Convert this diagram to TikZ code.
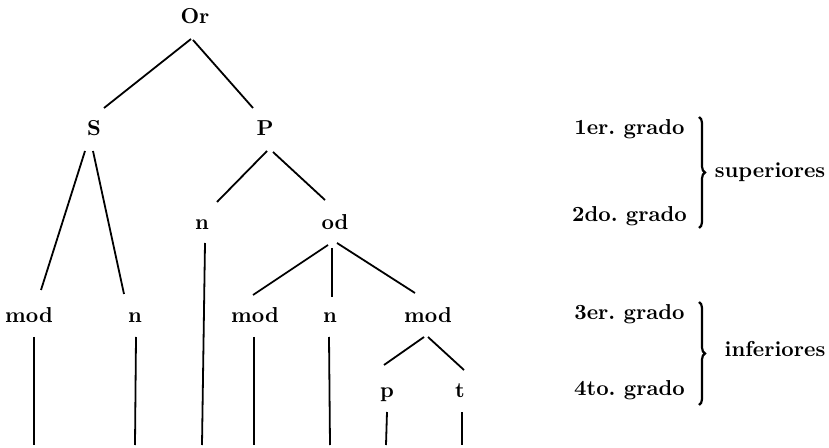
\documentclass[tikz,border=0pt]{standalone}
\usetikzlibrary{calc,decorations.pathreplacing}
\begin{document}
\begin{tikzpicture}[x=0.5pt,y=-0.5pt,
  lab/.style={anchor=base,inner sep=0pt,font=\fontsize{10.8}{13}\selectfont\bfseries},
  edge/.style={line width=0.9pt},
  brc/.style={line width=1.1pt,decorate,decoration={brace,amplitude=3pt}}]
\useasboundingbox (0,0) rectangle (829,448);
% tree nodes
\node[lab] (Or) at (195,24) {Or};
\node[lab] (S) at (94,136) {S};
\node[lab] (P) at (265,136) {P};
\node[lab] (n1) at (202,230) {n};
\node[lab] (od) at (335,230) {od};
\node[lab] (mod1) at (29,323) {mod};
\node[lab] (n2) at (135,323) {n};
\node[lab] (mod2) at (255,323) {mod};
\node[lab] (n3) at (330,323) {n};
\node[lab] (mod3) at (428,323) {mod};
\node[lab] (p) at (387,397) {p};
\node[lab] (t) at (460,397) {t};
% free ends
\coordinate (e1) at (34,445);
\coordinate (e2) at (135,445);
\coordinate (e3) at (202,445);
\coordinate (e4) at (254,445);
\coordinate (e5) at (330,445);
\coordinate (e6) at (386,445);
\coordinate (e7) at (462,445);
% edges
\draw[edge] ($(Or.base)+(-4,15)$) -- ($(S.base)+(10,-28)$);
\draw[edge] ($(Or.base)+(-2,16)$) -- ($(P.base)+(-12,-28)$);
\draw[edge] ($(S.base)+(-9,15)$) -- ($(mod1.base)+(12,-33)$);
\draw[edge] ($(S.base)+(-1,15)$) -- ($(n2.base)+(-11,-29)$);
\draw[edge] ($(P.base)+(2,15)$) -- ($(n1.base)+(15,-28)$);
\draw[edge] ($(P.base)+(8,16)$) -- ($(od.base)+(-10,-30)$);
\draw[edge] ($(od.base)+(-7,15)$) -- ($(mod2.base)+(-2,-28)$);
\draw[edge] ($(od.base)+(-3,18)$) -- ($(n3.base)+(2,-26)$);
\draw[edge] ($(od.base)+(2,13)$) -- ($(mod3.base)+(-13,-30)$);
\draw[edge] ($(mod3.base)+(-4,14)$) -- ($(p.base)+(-3,-32)$);
\draw[edge] ($(mod3.base)+(0,14)$) -- ($(t.base)+(4,-27)$);
\draw[edge] ($(mod1.base)+(5,14)$) -- (e1);
\draw[edge] ($(n2.base)+(1,14)$) -- (e2);
\draw[edge] ($(n1.base)+(3,13)$) -- (e3);
\draw[edge] ($(mod2.base)+(-1,14)$) -- (e4);
\draw[edge] ($(n3.base)+(-1,14)$) -- (e5);
\draw[edge] ($(p.base)+(0,15)$) -- (e6);
\draw[edge] ($(t.base)+(2,15)$) -- (e7);
% right side labels
\node[lab] (g1) at (629.5,135) {1er.\ grado};
\node[lab] (g2) at (629.5,222) {2do.\ grado};
\node[lab] (g3) at (629.5,320) {3er.\ grado};
\node[lab] (g4) at (629.5,395) {4to.\ grado};
\node[lab] (sup) at (770,178) {superiores};
\node[lab] (inf) at (775,357) {inferiores};
\coordinate (b1t) at (699,117);
\coordinate (b1b) at (699,228);
\coordinate (b2t) at (699,302);
\coordinate (b2b) at (699,405);
\draw[brc] (b1t) -- (b1b);
\draw[brc] (b2t) -- (b2b);
\end{tikzpicture}
\end{document}
